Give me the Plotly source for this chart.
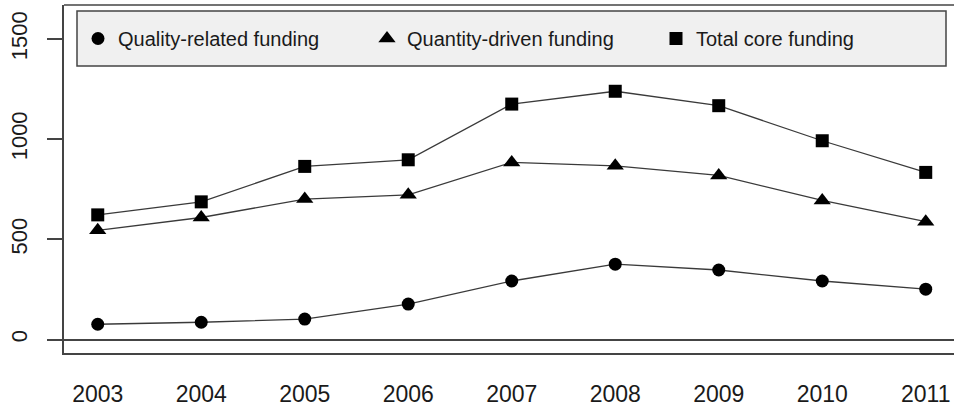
import plotly.graph_objects as go

# Core funding series by year
years = [2003, 2004, 2005, 2006, 2007, 2008, 2009, 2010, 2011]
quality_related = [76, 86, 102, 177, 292, 376, 347, 292, 251]
quantity_driven = [545, 609, 701, 722, 884, 867, 819, 694, 588]
total_core = [622, 687, 864, 897, 1175, 1239, 1167, 992, 834]

series_names = ["Quality-related funding", "Quantity-driven funding", "Total core funding"]
y_ticks = [0, 500, 1000, 1500]
x_ticks = years

FONT = "Liberation Sans, Arial, sans-serif"
INK = "#1a1a1a"
FRAME = "#444444"

series = [
    (series_names[0], quality_related, "circle", 13),
    (series_names[1], quantity_driven, "triangle-up", 15),
    (series_names[2], total_core, "square", 13),
]

fig = go.Figure()

# connecting lines (kept out of the legend)
for name, vals, sym, sz in series:
    fig.add_trace(go.Scatter(
        x=years, y=vals, mode="lines",
        line=dict(color="#3a3a3a", width=1.3),
        showlegend=False, hoverinfo="skip",
    ))

# point symbols, which also carry the legend entries
for name, vals, sym, sz in series:
    fig.add_trace(go.Scatter(
        x=years, y=vals, mode="markers", name=name,
        marker=dict(symbol=sym, size=sz, color="black", line=dict(width=0)),
    ))

W, H = 954, 408
ML, MR, MT, MB = 64, 0, 5, 55
PW, PH = W - ML - MR, H - MT - MB


def px_x(px):
    return (px - ML) / PW


def px_y(py):
    return 1 - (py - MT) / PH


fig.update_layout(
    width=W, height=H,
    margin=dict(l=ML, r=MR, t=MT, b=MB, autoexpand=False),
    paper_bgcolor="white", plot_bgcolor="white",
    font=dict(family=FONT, color=INK),
    showlegend=True,
    legend=dict(
        orientation="h",
        x=px_x(78), xanchor="left",
        y=px_y(38.5), yanchor="middle",
        bgcolor="rgba(0,0,0,0)", borderwidth=0,
        font=dict(family=FONT, size=20, color=INK),
        entrywidth=244, entrywidthmode="pixels",
        itemsizing="trace",
    ),
    xaxis=dict(
        range=[2002.674, 2011.273],
        tickvals=x_ticks, ticktext=[str(v) for v in x_ticks],
        ticks="", showgrid=False, zeroline=False,
        showline=True, linecolor=FRAME, linewidth=1.5,
        tickfont=dict(family=FONT, size=23, color=INK),
        ticklabelstandoff=20, automargin=False,
    ),
    yaxis=dict(
        range=[-67.4, 1669.6],
        tickvals=y_ticks, ticktext=[str(v) for v in y_ticks],
        ticks="outside", ticklen=15, tickwidth=1.5, tickcolor=FRAME,
        showgrid=False,
        zeroline=True, zerolinecolor=FRAME, zerolinewidth=1.5,
        showline=True, linecolor=FRAME, linewidth=1.5,
        tickangle=-90,
        tickfont=dict(family=FONT, size=22, color=INK),
        ticklabelstandoff=11, automargin=False,
    ),
    shapes=[
        # top edge of the plotting frame
        dict(type="line", xref="paper", yref="paper", x0=0, x1=1, y0=1, y1=1,
             line=dict(color=FRAME, width=1.5)),
        # legend panel
        dict(type="rect", xref="paper", yref="paper",
             x0=px_x(77), x1=px_x(946), y0=px_y(66), y1=px_y(11),
             fillcolor="#f0f0f0", line=dict(color=FRAME, width=1.5), layer="below"),
    ],
)

fig.write_html("out.html")
